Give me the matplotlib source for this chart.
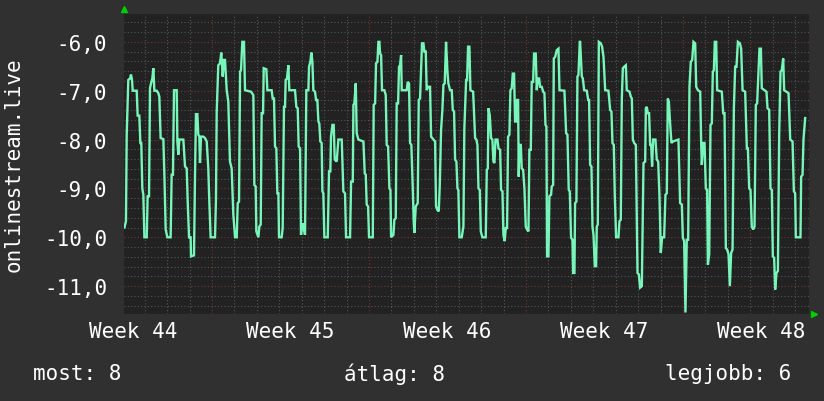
import numpy as np
import matplotlib
matplotlib.use("Agg")
import matplotlib.pyplot as plt

# ---- data (hours since start of graph, value) ----
hours = [
 0.5, 2.1, 2.9, 4.6, 6.4, 7.5, 8.6, 9.3, 13.6, 14.6, 16.4, 17.5, 18.5, 19.6, 20.7, 21.8,
 24.3, 25.3, 26.8, 27.8, 28.9, 30.3, 31.4, 32.5, 35.0, 36.7, 37.8, 39.2, 42.1, 43.2, 44.6, 46.4,
 49.9, 51.0, 52.4, 53.5, 56.4, 57.1, 58.1, 59.2, 63.5, 65.3, 67.1, 68.1, 69.6, 71.3, 71.7, 74.9,
 76.0, 77.0, 78.5, 79.5, 80.6, 81.3, 82.4, 84.9, 86.7, 88.5, 90.2, 91.3, 92.7, 97.4, 98.4, 99.2,
 100.9, 102.7, 104.1, 105.6, 107.0, 108.1, 109.9, 111.6, 113.4, 115.2, 117.0, 118.8,
 120.6, 121.7, 123.1, 124.2, 125.2, 126.6, 128.4, 129.5, 135.9, 138.4, 139.5, 140.9, 141.6, 143.8,
 144.8, 146.3, 147.3, 148.8, 149.5, 152.3, 153.4, 158.0, 159.1, 160.5, 161.6, 163.0, 164.1, 165.2,
 165.9, 168.7, 169.8, 171.2, 172.3, 173.0, 174.4, 175.9, 176.9, 183.0, 184.4, 185.9, 186.9, 188.4,
 189.4, 190.9, 192.3, 193.7, 195.1, 197.3, 198.0, 199.4, 200.5, 201.6, 202.6, 204.4, 205.5, 206.9,
 208.0, 209.0, 210.1, 211.5, 212.3, 213.3, 214.4, 218.0, 219.4, 220.8, 221.5, 223.0, 224.4, 225.5,
 227.6, 229.4, 233.0, 234.7, 236.5, 237.6, 241.9,
 243.0, 244.8, 245.5, 246.5, 248.0, 249.0, 250.8, 256.2, 257.6, 258.7, 259.7, 261.2, 262.2, 266.2,
 267.2, 268.7, 269.7, 271.2, 272.2, 273.3, 274.0, 275.1, 276.1, 278.6, 280.1, 281.1, 282.6, 284.0,
 285.1, 285.8, 288.3, 289.3, 290.8, 291.8, 293.3, 294.3, 295.4, 296.5, 297.2, 302.5, 303.6, 305.0,
 306.1, 307.5, 309.0, 310.0, 310.7, 312.2, 314.3, 315.4, 316.8, 317.9, 318.9, 320.4, 321.4, 322.9,
 323.9, 325.4, 327.5, 328.6, 331.1, 332.9, 333.9, 335.4, 336.8, 337.9, 339.3, 340.7, 341.8, 343.2,
 344.6, 346.1, 347.1, 348.9, 350.7, 351.8, 353.2, 354.3, 355.7, 356.8, 357.8, 358.9, 361.4, 363.2,
 364.2,
 366.1, 367.1, 368.2, 369.6, 370.7, 373.6, 375.7, 377.1, 378.2, 379.3, 380.7, 381.8, 383.5, 387.1,
 388.2, 389.3, 390.0, 391.4, 392.8, 394.2, 395.3, 396.4, 397.5, 399.6, 400.7, 402.5, 403.5, 405.0,
 406.0, 407.4, 408.5, 409.9, 411.0, 412.4, 413.5, 414.9, 416.0, 417.4, 418.5, 419.6, 420.6, 421.7,
 422.4, 423.1, 424.6, 425.6, 427.1, 428.5, 429.9, 431.3, 432.8, 433.8, 435.3, 436.3, 437.8, 438.8,
 440.6, 441.7, 442.8, 444.2, 445.3, 447.0, 448.5, 449.9, 451.0, 452.0, 452.7, 454.2, 455.2, 457.0,
 457.7, 459.2, 459.9, 461.3, 463.1, 464.9, 466.0, 471.3, 473.1, 474.5, 475.9, 477.0, 478.4, 479.9,
 480.6, 482.0, 482.7, 484.1, 485.2, 486.3, 487.7,
 488.1, 489.9, 491.0, 492.4, 495.2, 496.7, 497.7, 498.8, 500.2, 501.3, 502.4, 503.8, 505.2, 505.9,
 507.0, 508.1, 510.2, 511.6, 513.1, 514.9, 518.4, 520.2, 521.6, 522.7, 524.1, 525.2, 526.6, 529.1,
 530.2, 531.6, 532.7, 533.8, 535.2, 537.0, 538.0, 540.9, 542.3, 543.4, 544.5, 545.9, 547.7, 549.5,
 550.9, 552.3, 554.1, 555.9, 557.7, 558.4, 559.4, 560.5, 561.9, 563.0, 564.1, 565.1, 566.2, 568.7,
 570.1, 571.6, 573.0, 574.4, 575.8, 578.0, 579.4, 580.8, 581.9, 583.0, 584.4, 585.8, 587.3, 593.3,
 595.1, 596.9, 598.0, 599.4, 600.8, 602.2, 603.7, 605.1, 606.5, 608.0, 609.4, 611.2,
 612.3, 614.1, 616.6, 617.6, 618.3, 619.8, 621.2, 622.6, 624.0, 624.8, 626.2, 627.6, 629.0, 630.1,
 631.2, 632.2, 633.7, 634.7, 639.7, 641.2, 642.6, 644.0, 645.4, 646.9, 648.3, 649.7, 651.2, 652.6,
 654.0, 655.4, 656.9, 659.0, 660.4, 661.9, 664.7, 666.5, 667.6, 669.0, 670.4, 671.8, 673.3, 674.7,
 676.1, 677.5, 679.0, 680.0, 681.5, 682.5, 687.5, 688.6, 690.4, 691.8, 693.2, 694.3, 695.7, 696.8,
 698.2, 699.7, 701.1, 702.5, 703.9, 705.4, 706.4, 711.1, 712.9, 715.4, 716.8, 718.2, 718.9, 723.9,
 724.6, 726.1, 727.1, 728.9,
]
values = [
 -9.80, -9.67, -7.90, -6.78, -6.75, -6.67, -6.78, -7.00, -7.00, -7.51, -7.51, -8.07, -8.07, -9.00, -9.13, -10.00,
 -10.00, -9.16, -9.16, -6.95, -6.85, -6.75, -6.54, -7.00, -7.00, -7.05, -7.12, -7.97, -7.99, -8.72, -9.84, -10.00,
 -10.00, -8.72, -8.72, -6.99, -6.99, -8.04, -8.31, -8.00, -8.00, -8.55, -8.59, -9.23, -10.00, -10.00, -10.39, -10.37,
 -8.72, -7.48, -7.48, -7.90, -7.94, -8.48, -7.94, -7.94, -7.97, -8.04, -8.59, -9.27, -10.00, -10.00, -9.23, -7.43,
 -6.48, -6.44, -6.22, -6.71, -6.37, -6.37, -6.99, -7.22, -8.45, -8.59, -9.54, -10.00,
 -10.00, -9.30, -9.27, -6.61, -6.58, -6.00, -6.00, -6.99, -7.02, -7.09, -8.93, -8.96, -9.88, -10.00,
 -9.78, -9.74, -7.46, -7.46, -6.54, -6.56, -6.99, -6.99, -7.16, -7.16, -8.14, -8.18, -9.10, -9.10,
 -10.00, -10.00, -9.81, -7.33, -7.33, -6.78, -6.75, -6.48, -6.99, -6.99, -7.33, -7.36, -8.14, -8.18,
 -9.95, -9.71, -9.81, -9.95, -6.99, -6.99, -6.51, -6.41, -6.22, -6.41, -6.99, -7.02, -7.19, -7.19,
 -7.63, -7.67, -8.04, -8.07, -9.06, -9.10, -10.00, -10.00, -8.65, -8.65, -7.94, -7.70, -7.70, -8.41,
 -8.45, -8.00, -8.00, -9.06, -9.10, -10.00, -10.00,
 -8.86, -8.86, -7.29, -7.26, -6.85, -7.87, -8.00, -8.04, -8.69, -8.72, -9.33, -9.37, -10.00, -10.00,
 -7.29, -7.26, -6.44, -6.41, -6.00, -6.00, -6.24, -6.27, -6.99, -6.99, -7.09, -8.11, -8.14, -9.00,
 -9.03, -10.00, -9.95, -9.64, -9.61, -7.26, -7.26, -6.51, -6.48, -6.27, -6.99, -6.99, -6.82, -6.85,
 -8.07, -8.11, -9.00, -9.67, -9.91, -9.37, -9.30, -7.19, -7.16, -6.58, -6.03, -6.03, -6.20, -6.20,
 -6.99, -6.92, -6.92, -7.94, -8.00, -8.04, -9.37, -9.44, -9.47, -8.93, -7.80, -7.39, -6.88, -6.85,
 -6.00, -6.61, -6.85, -6.99, -6.99, -7.39, -7.43, -8.41, -8.45, -9.00, -9.03, -10.00, -10.00, -9.78,
 -7.77,
 -6.78, -6.78, -6.10, -6.10, -6.99, -7.02, -7.97, -8.00, -8.11, -9.00, -9.03, -9.88, -10.00, -10.00,
 -8.62, -8.59, -7.36, -7.50, -7.97, -8.00, -8.45, -8.48, -8.00, -8.00, -8.18, -8.21, -9.03, -9.06,
 -9.95, -10.08, -9.81, -9.81, -7.94, -7.90, -6.99, -6.95, -6.65, -6.65, -7.63, -7.63, -7.19, -7.19,
 -8.76, -8.11, -8.11, -8.59, -8.62, -9.00, -9.78, -9.84, -9.88, -8.21, -8.21, -6.82, -6.82, -6.24,
 -6.24, -6.99, -6.75, -6.75, -6.92, -6.92, -7.02, -7.05, -7.70, -7.73, -10.39, -10.39, -9.16, -9.13,
 -8.96, -8.93, -6.34, -6.31, -6.17, -6.14, -6.99, -7.00, -7.87, -7.90, -9.03, -9.06, -10.01, -10.05,
 -10.73, -10.73, -9.30, -9.27, -6.71, -6.68, -6.00,
 -6.00, -6.71, -6.75, -6.99, -7.00, -7.19, -7.19, -8.52, -8.55, -9.78, -9.95, -10.59, -10.59, -9.78,
 -9.74, -6.00, -6.03, -6.10, -6.31, -6.99, -7.00, -7.39, -7.43, -8.07, -8.11, -9.16, -10.00, -10.00,
 -9.67, -9.64, -7.16, -6.54, -6.51, -6.48, -6.99, -7.02, -7.12, -7.16, -8.00, -8.07, -8.11, -10.73,
 -10.76, -11.03, -11.00, -8.48, -8.45, -7.36, -7.33, -7.46, -7.46, -8.11, -8.11, -8.55, -8.00, -8.00,
 -8.41, -8.45, -9.16, -10.32, -10.00, -10.00, -9.13, -9.10, -7.16, -7.22, -7.67, -8.07, -8.04, -8.00,
 -9.30, -9.33, -10.01, -10.08, -11.54, -10.05, -10.05, -6.92, -6.41, -6.37, -6.00, -6.03,
 -6.92, -6.99, -7.02, -8.07, -8.52, -8.07, -8.07, -9.00, -9.03, -10.56, -10.35, -7.70, -7.67, -6.61,
 -6.58, -6.00, -6.00, -6.99, -7.02, -7.46, -7.46, -10.22, -10.25, -10.35, -11.00, -10.32, -10.25, -7.36,
 -6.51, -6.51, -6.00, -6.03, -6.14, -6.99, -7.02, -8.18, -8.18, -9.00, -9.03, -9.78, -9.84, -9.78,
 -7.29, -7.26, -6.61, -6.14, -6.14, -6.95, -7.02, -7.36, -7.39, -9.00, -9.03, -10.39, -10.42, -11.07,
 -10.73, -10.69, -7.90, -6.61, -6.58, -6.34, -6.99, -7.05, -8.00, -8.04, -9.06, -9.10, -10.00, -10.00,
 -8.76, -8.72, -8.00, -7.56,
]

week_labels = ["Week 44", "Week 45", "Week 46", "Week 47", "Week 48"]
ytick_values = [-11, -10, -9, -8, -7, -6]
ylabel = "onlinestream.live"
legend_items = ["most: 8", "átlag: 8", "legjobb: 6"]

# time axis layout (hours)
x_min, x_max = 0.0, 733.0
first_week_start = 94.2
y_min, y_max = -11.57, -5.42

BG = "#303030"
PLOT_BG = "#222222"
TXT = "#ffffff"
LINE = "#78f5b9"
FONT = "DejaVu Sans Mono"
FS = 15

fig = plt.figure(figsize=(8.24, 4.02), dpi=100, facecolor=BG)
ax = fig.add_axes([124 / 824, 1 - 315 / 402, 685 / 824, 300.5 / 402])
ax.set_facecolor(PLOT_BG)

# grid
for yv in np.arange(-11.6, -5.3, 0.2):
    yv = round(yv, 1)
    if abs(yv - round(yv)) < 1e-6:
        ax.axhline(yv, color="#703636", lw=0.8, ls=(0, (1, 2)), zorder=1)
    else:
        ax.axhline(yv, color="#555555", lw=0.8, ls=(0, (1, 2)), zorder=1)
week_starts = first_week_start + 168 * np.arange(0, 4)
days = np.arange(first_week_start - 96, x_max, 24)
for d in days:
    is_week = np.any(np.abs(week_starts - d) < 1e-6)
    ax.axvline(d, color="#703636" if is_week else "#555555", lw=0.8,
               ls=(0, (1, 2)), zorder=1)

ax.plot(hours, values, color=LINE, lw=1.7, zorder=3, solid_joinstyle="miter")

ax.set_xlim(x_min, x_max)
ax.set_ylim(y_min, y_max)

ax.set_yticks(ytick_values)
ax.set_yticklabels([f"{v:.1f}".replace(".", ",") for v in ytick_values])
week_centers = first_week_start - 84 + 168 * np.arange(len(week_labels))
ax.set_xticks(week_centers)
ax.set_xticklabels(week_labels)
ax.tick_params(axis="both", length=0, colors=TXT, labelsize=FS)
ax.tick_params(axis="y", pad=12)
ax.tick_params(axis="x", pad=5)
for lab in ax.get_xticklabels() + ax.get_yticklabels():
    lab.set_family(FONT)
for s in ax.spines.values():
    s.set_visible(False)

# axis arrows
ax.plot([0], [1.0 + 4 / 300], marker="^", color="#00cc00", ms=5,
        transform=ax.transAxes, clip_on=False, zorder=5)
ax.plot([1.0 + 5 / 685], [0], marker=">", color="#00cc00", ms=5,
        transform=ax.transAxes, clip_on=False, zorder=5)

fig.text(14 / 824, 1 - 165 / 402, ylabel, rotation=90, ha="center", va="center",
         color=TXT, fontsize=FS, family=FONT)
ly = 1 - 374 / 402
fig.text(33 / 824, ly, legend_items[0], ha="left", va="center", color=TXT,
         fontsize=FS, family=FONT)
fig.text(394 / 824, ly, legend_items[1], ha="center", va="center", color=TXT,
         fontsize=FS, family=FONT)
fig.text(791 / 824, ly, legend_items[2], ha="right", va="center", color=TXT,
         fontsize=FS, family=FONT)

fig.savefig("out.png", dpi=100, facecolor=BG)
